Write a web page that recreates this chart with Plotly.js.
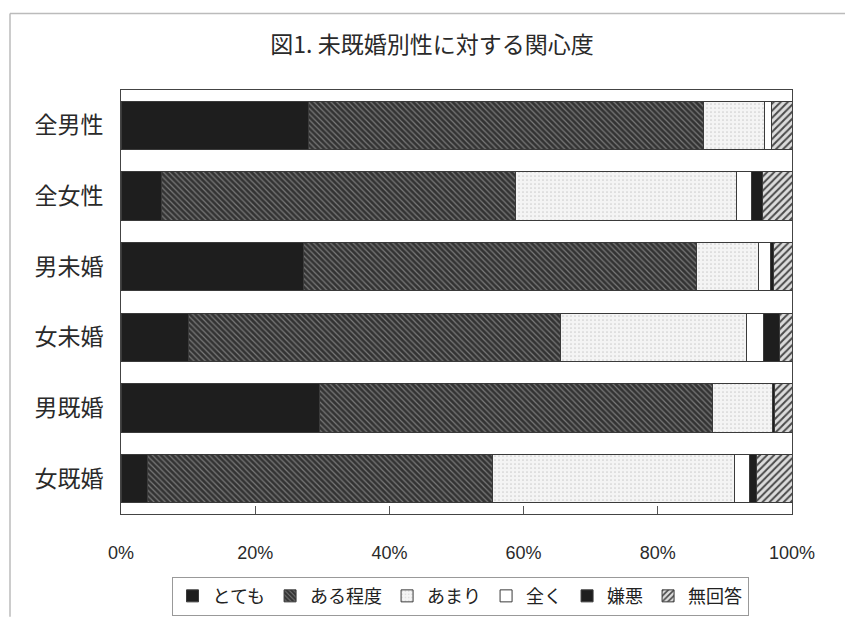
<!DOCTYPE html>
<html>
<head>
<meta charset="utf-8">
<script src="https://cdn.plot.ly/plotly-3.0.1.min.js"></script>
<style>
html,body{margin:0;padding:0;background:#fff;}
#chart{width:845px;height:628px;}
</style>
</head>
<body>
<div id="chart"></div>
<script>
const categories = ["全男性", "全女性", "男未婚", "女未婚", "男既婚", "女既婚"];
const seriesNames = ["とても", "ある程度", "あまり", "全く", "嫌悪", "無回答"];
const totemo   = [28.0, 6.0, 27.2, 10.0, 29.6, 3.9];
const aruteido = [58.8, 52.8, 58.5, 55.5, 58.5, 51.4];
const amari    = [9.1, 32.9, 9.3, 27.7, 9.0, 36.2];
const mattaku  = [1.1, 2.3, 1.8, 2.6, 0.0, 2.2];
const keno     = [0.0, 1.6, 0.5, 2.4, 0.3, 1.0];
const mukaito  = [3.0, 4.4, 2.7, 1.8, 2.6, 5.3];
const xTicks = [0, 20, 40, 60, 80, 100];

const values = [totemo, aruteido, amari, mattaku, keno, mukaito];
const styles = [
  {color: "#1e1e1e"},
  {color: "#3a3a3a", pattern: {shape: "\\", bgcolor: "#333333", fgcolor: "#7a7a7a", size: 4, solidity: 0.3, fillmode: "replace"}},
  {color: "#f2f2f2", pattern: {shape: ".", bgcolor: "#f4f4f4", fgcolor: "#cfcfcf", size: 4, solidity: 0.15, fillmode: "replace"}},
  {color: "#ffffff"},
  {color: "#1e1e1e"},
  {color: "#d8d8d8", pattern: {shape: "/", bgcolor: "#dcdcdc", fgcolor: "#4a4a4a", size: 5, solidity: 0.4, fillmode: "replace"}}
];

const traces = values.map((v, i) => ({
  type: "bar",
  orientation: "h",
  name: seriesNames[i],
  y: categories,
  x: v,
  marker: Object.assign({line: {color: "#3a3a3a", width: 1}}, styles[i]),
  hoverinfo: "name+x"
}));

const L = 121, R = 792, T = 90, B = 523;
const W = 845, H = 628;
const pw = R - L, ph = B - T;

const layout = {
  width: W, height: H,
  margin: {l: L, r: W - R, t: T, b: H - B},
  paper_bgcolor: "#ffffff",
  plot_bgcolor: "#ffffff",
  barmode: "stack",
  bargap: 0.32,
  showlegend: true,
  font: {family: "'Noto Sans CJK JP', 'Liberation Sans', sans-serif", color: "#222"},
  title: {
    text: "図1. 未既婚別性に対する関心度",
    x: 432 / W, xref: "container", xanchor: "center",
    y: 1 - 45 / H, yref: "container", yanchor: "middle",
    font: {size: 23, color: "#2a2a2a", family: "'Noto Sans CJK JP', sans-serif"}
  },
  xaxis: {
    range: [0, 100],
    tickvals: xTicks,
    ticktext: xTicks.map(t => t + "%"),
    ticks: "inside", ticklen: 8, tickcolor: "#555",
    showgrid: false, zeroline: false,
    showline: true, linecolor: "#444", linewidth: 1, mirror: true,
    ticklabelstandoff: 22,
    tickfont: {size: 18, family: "'Liberation Sans', Arial, sans-serif", color: "#2a2a2a"},
    fixedrange: true
  },
  yaxis: {
    autorange: "reversed",
    showgrid: false, zeroline: false,
    showline: true, linecolor: "#444", linewidth: 1, mirror: true,
    ticks: "",
    ticklabelstandoff: 12,
    tickfont: {size: 23, family: "'Noto Sans CJK JP', sans-serif", color: "#2a2a2a"},
    fixedrange: true
  },
  legend: {
    orientation: "h",
    x: (460 - L) / pw, xanchor: "center",
    y: (B - 587) / ph, yanchor: "top",
    bordercolor: "#999", borderwidth: 1,
    bgcolor: "#ffffff",
    font: {size: 18, family: "'Noto Sans CJK JP', sans-serif", color: "#222"},
    traceorder: "normal",
    itemwidth: 30
  },
  shapes: [
    {type: "line", xref: "paper", yref: "paper",
     x0: (10 - L) / pw, x1: (845 - L) / pw, y0: (B - 12) / ph, y1: (B - 12) / ph,
     line: {color: "#bbbbbb", width: 1.5}},
    {type: "line", xref: "paper", yref: "paper",
     x0: (10 - L) / pw, x1: (10 - L) / pw, y0: (B - 12) / ph, y1: (B - 628) / ph,
     line: {color: "#bbbbbb", width: 1.5}}
  ]
};

Plotly.newPlot("chart", traces, layout, {displayModeBar: false, staticPlot: true});
</script>
</body>
</html>
